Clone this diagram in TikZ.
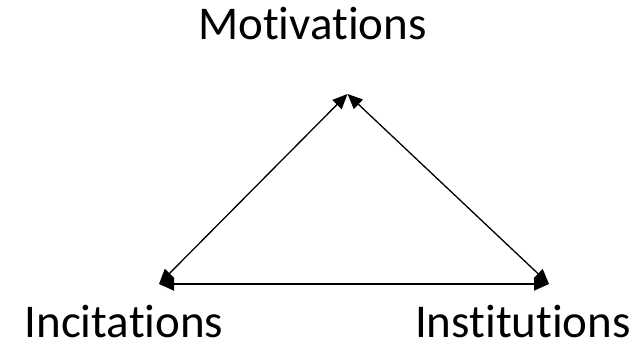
\documentclass[tikz,border=0pt]{standalone}
\usepackage{fontspec}
\setmainfont{Carlito}[Ligatures=NoCommon]
\usetikzlibrary{arrows.meta,positioning,calc}
\tikzset{
  link/.style={{Triangle[length=15pt,width=13pt]}-{Triangle[length=15pt,width=13pt]},line width=1.3pt,draw=black},
  corner/.style={font=\fontsize{47}{56}\selectfont,anchor=base,inner sep=0pt,text depth=0pt}
}

\begin{document}
\begin{tikzpicture}[x=1pt,y=-1pt]
  \useasboundingbox (0,0) rectangle (638,341);
  \coordinate (apex) at (347.5,94);
  \coordinate (left) at (159,284);
  \coordinate (right) at (549,284);

  \node[corner] (motiv) at (312.5,39.5) {Motivations};
  \node[corner] (incit) at (124,337) {Incitations};
  \node[corner] (instit) at (523,337) {Institutions};

  \draw[link] (left)--(apex);
  \draw[link] (right)--(apex);
  \draw[link,line width=1.8pt] (left)--(right);
\end{tikzpicture}
\end{document}
